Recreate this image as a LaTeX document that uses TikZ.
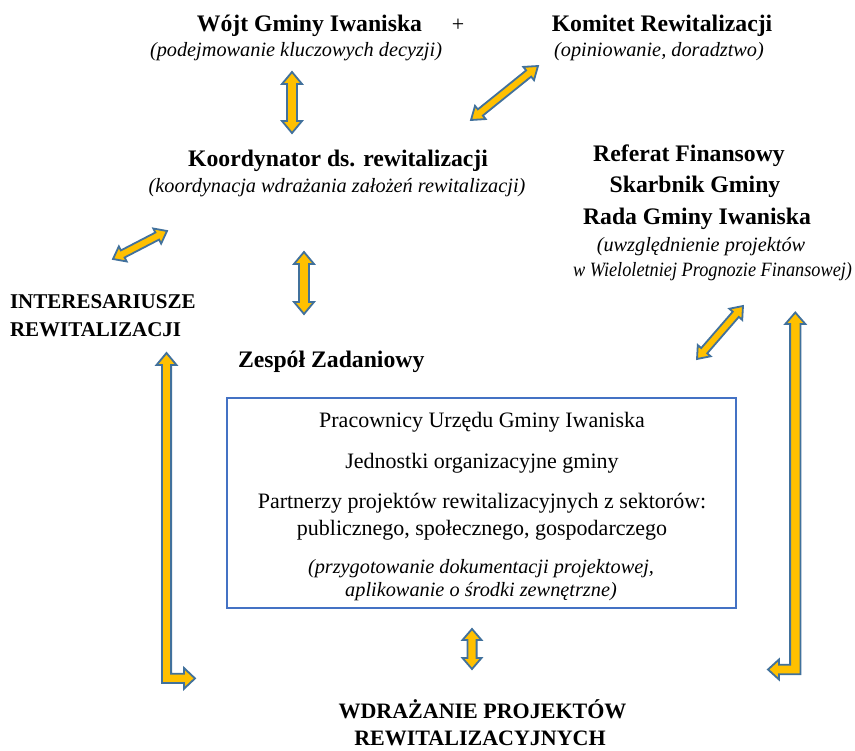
\documentclass[tikz,border=0pt]{standalone}
\usepackage{fontspec}
\setmainfont{Liberation Serif}
\usetikzlibrary{calc}
\definecolor{arrfill}{HTML}{FFC000}
\definecolor{arrline}{HTML}{41719C}
\definecolor{boxline}{HTML}{4472C4}
% double block arrow between two named coordinates:
% #1 start, #2 end, #3 shaft half width, #4 head half width, #5 head length
\newcommand\dblarr[5]{%
  \coordinate (q1) at ($(#1)!#5!(#2)$);
  \coordinate (q2) at ($(#2)!#5!(#1)$);
  \draw[arrst] (#1) -- ($(q1)!#4!90:(#2)$) -- ($(q1)!#3!90:(#2)$)
    -- ($(q2)!#3!-90:(#1)$) -- ($(q2)!#4!-90:(#1)$) -- (#2)
    -- ($(q2)!#4!90:(#1)$) -- ($(q2)!#3!90:(#1)$)
    -- ($(q1)!#3!-90:(#2)$) -- ($(q1)!#4!-90:(#2)$) -- cycle;}
\begin{document}
\begin{tikzpicture}[x=1pt,y=-1pt,
  arrst/.style={draw=arrline, fill=arrfill, line width=1.8pt, line join=miter},
  txt/.style={inner sep=0pt, outer sep=0pt, anchor=base},
  bt/.style={txt, font=\fontsize{23.7}{28}\selectfont\bfseries},
  bs/.style={txt, font=\fontsize{21}{25}\selectfont\bfseries},
  bb/.style={txt, font=\fontsize{22}{26}\selectfont\bfseries},
  rt/.style={txt, font=\fontsize{22}{26}\selectfont},
  it/.style={txt, font=\fontsize{20.3}{24}\selectfont\itshape},
  boxst/.style={draw=boxline, line width=1.6pt, inner sep=0pt, minimum width=509pt, minimum height=210pt}]
\useasboundingbox (0,0) rectangle (855,751);
\fill[white] (0,0) rectangle (855,751);

% top row
\node[bt] (wojt) at (309.5,32) {Wójt Gminy Iwaniska};
\node[rt] (plus) at (458,32) {+};
\node[it] (wojtd) at (296,57) {(podejmowanie kluczowych decyzji)};
\node[bt] (kom) at (662,32) {Komitet Rewitalizacji};
\node[it] (komd) at (659,57) {(opiniowanie, doradztwo)};

% coordinator
\node[bt] (koord) at (338,167) {Koordynator ds. rewitalizacji};
\node[it] (koordd) at (337,193) {(koordynacja wdrażania założeń rewitalizacji)};

% finance
\node[bt] (ref) at (689,162) {Referat Finansowy};
\node[bt] (skarb) at (695,193) {Skarbnik Gminy};
\node[bt] (rada) at (697,225) {Rada Gminy Iwaniska};
\node[it] (radad1) at (701,252) {(uwzględnienie projektów};
\node[it, anchor=base east] (radad2) at (852,277) {\scalebox{0.9}[1]{w Wieloletniej Prognozie Finansowej)}};

% stakeholders
\node[bs, anchor=base west] (inter1) at (10,309) {INTERESARIUSZE};
\node[bs, anchor=base west] (inter2) at (10,337) {REWITALIZACJI};

% task team
\node[bt, anchor=base west] (zesp) at (238,368) {Zespół Zadaniowy};
\node[boxst] (box) at (481.5,503) {};
\node[rt] (b1) at (482,428) {Pracownicy Urzędu Gminy Iwaniska};
\node[rt] (b2) at (482,468) {Jednostki organizacyjne gminy};
\node[rt] (b3) at (482,508) {Partnerzy projektów rewitalizacyjnych z sektorów:};
\node[rt] (b4) at (482,535) {publicznego, społecznego, gospodarczego};
\node[it] (b5) at (481,573) {(przygotowanie dokumentacji projektowej,};
\node[it] (b6) at (481,596) {aplikowanie o środki zewnętrzne)};

% implementation
\node[bb] (wdr1) at (482.5,718) {WDRAŻANIE PROJEKTÓW};
\node[bb] (wdr2) at (480,745) {REWITALIZACYJNYCH};

% arrows
\coordinate (a1s) at (292,72);  \coordinate (a1e) at (292,133);
\dblarr{a1s}{a1e}{5pt}{10pt}{12pt}
\coordinate (a2s) at (471,120); \coordinate (a2e) at (538,66);
\dblarr{a2s}{a2e}{4pt}{8.5pt}{12pt}
\coordinate (a3s) at (113,259); \coordinate (a3e) at (167,231);
\dblarr{a3s}{a3e}{4pt}{8.5pt}{11pt}
\coordinate (a4s) at (304,252); \coordinate (a4e) at (304,314);
\dblarr{a4s}{a4e}{5pt}{10pt}{12pt}
\coordinate (a5s) at (697,359); \coordinate (a5e) at (743,306);
\dblarr{a5s}{a5e}{4pt}{8.5pt}{11pt}
\coordinate (a8s) at (472,629); \coordinate (a8e) at (472,669);
\dblarr{a8s}{a8e}{4.6pt}{9.5pt}{11pt}

% L-shaped arrows
\draw[arrst] (166.5,353) -- (176.5,365) -- (171.1,365) -- (171.1,673.8) -- (184,673.8)
  -- (184,668) -- (195,678.4) -- (184,688.8) -- (184,683) -- (161.9,683)
  -- (161.9,365) -- (156.5,365) -- cycle;
\draw[arrst] (795.3,312.5) -- (805.3,324) -- (800.5,324) -- (800.5,674.3) -- (779,674.3)
  -- (779,679.5) -- (768,669.5) -- (779,659.5) -- (779,664.7) -- (790.1,664.7)
  -- (790.1,324) -- (785.3,324) -- cycle;
\end{tikzpicture}
\end{document}
